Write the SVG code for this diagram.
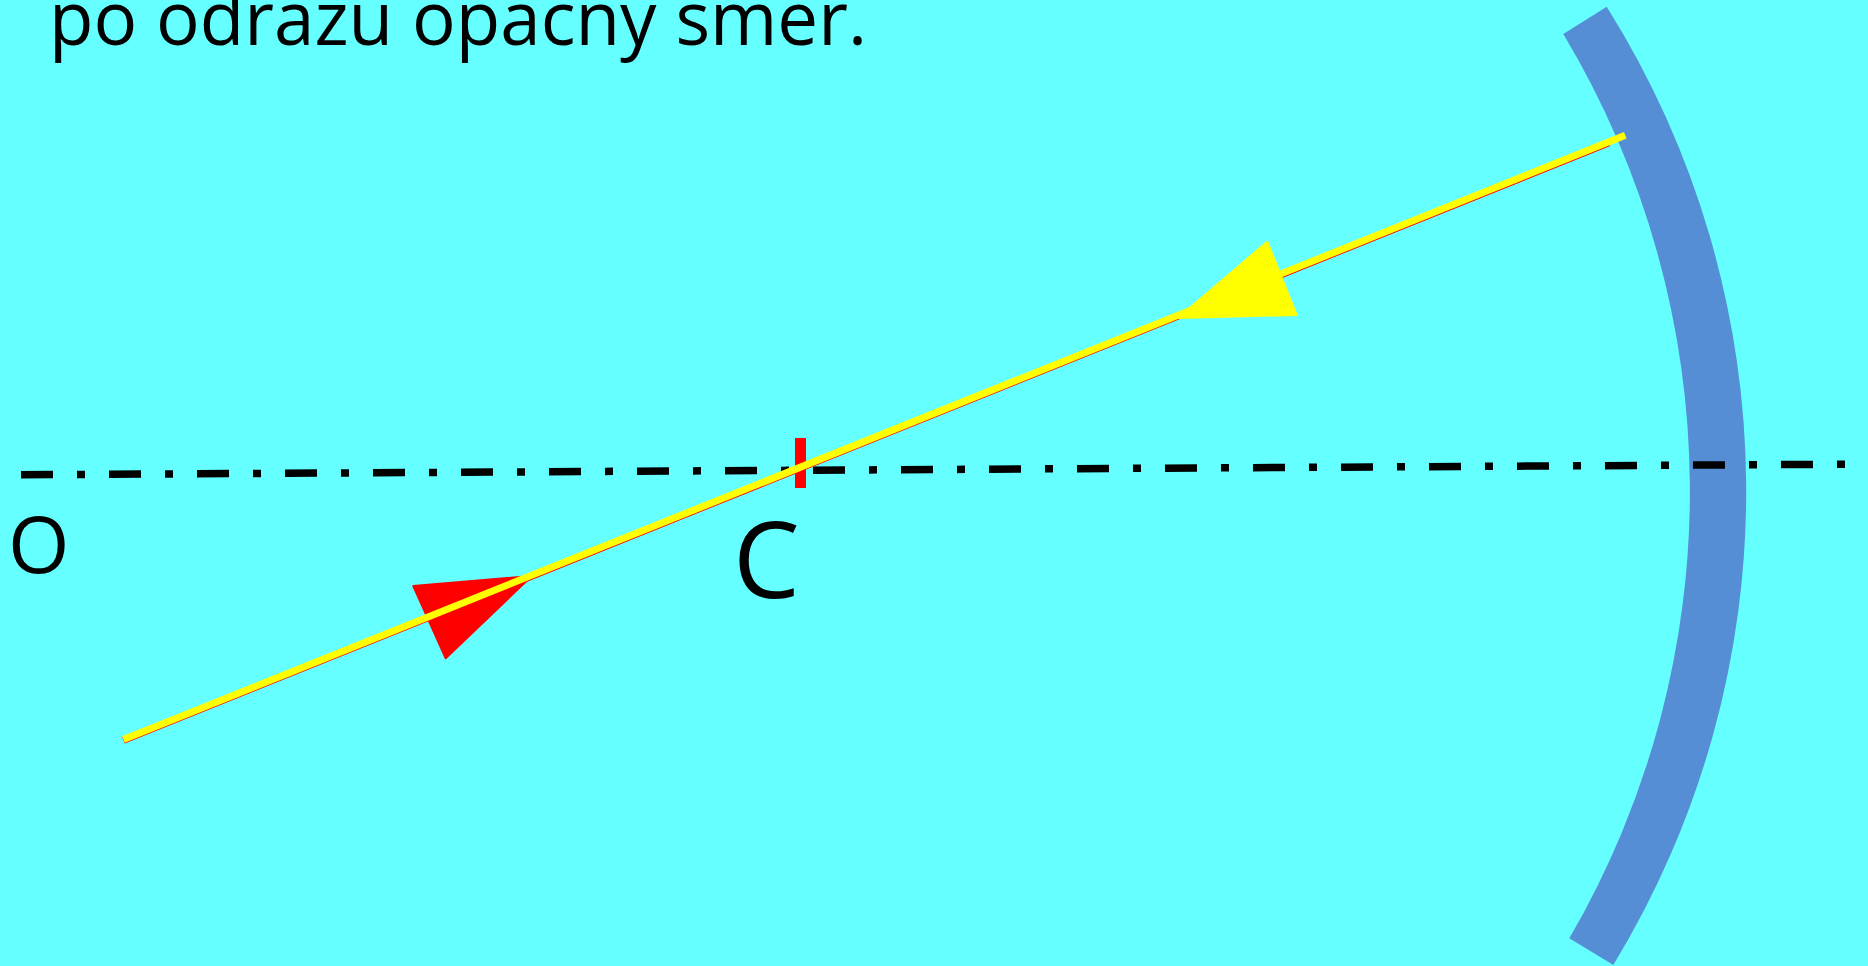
<svg xmlns="http://www.w3.org/2000/svg" width="1868" height="966" viewBox="0 0 1868 966">
<style>
.lbl{font-family:"Open Sans","Noto Sans","Liberation Sans",sans-serif;fill:#000}
.ray{stroke-width:7;stroke-linecap:butt;fill:none}
</style>
<rect x="0" y="0" width="1868" height="966" fill="#66FFFF"/>
<g id="title">
<text class="lbl" x="49" y="45" font-size="75" textLength="818" lengthAdjust="spacingAndGlyphs">po odrazu opacny smer.</text>
</g>
<g id="mirror">
<path d="M1606.7,6.7 A911,911 0 0 1 1613.3,965 L1569.3,938.3 A889,889 0 0 0 1563.3,34 Z" fill="#558ED5"/>
</g>
<g id="connectors">
<line id="axis" x1="21" y1="474.8" x2="1852" y2="464.2" stroke="#000" stroke-width="7.5" stroke-dasharray="32 24 8 24"/>
<rect id="tick-C" x="795" y="438" width="11" height="50" fill="#FF0000"/>
<line class="ray" x1="123.5" y1="740.3" x2="1609" y2="142.8" stroke="#FF0000"/>
<polygon points="413.3,586 445.7,658.3 531.7,576" fill="#FF0000" stroke="#FF0000" stroke-width="2" stroke-linejoin="round"/>
<line class="ray" x1="123.5" y1="739.5" x2="1625.3" y2="135.3" stroke="#FFFF00"/>
<polygon points="1178,318 1267.3,241.7 1296.7,315" fill="#FFFF00" stroke="#FFFF00" stroke-width="2" stroke-linejoin="round"/>
</g>
<g id="label-O">
<text class="lbl" x="8" y="573" font-size="79">O</text>
</g>
<g id="label-C">
<text class="lbl" x="733" y="598" font-size="106">C</text>
</g>
</svg>
